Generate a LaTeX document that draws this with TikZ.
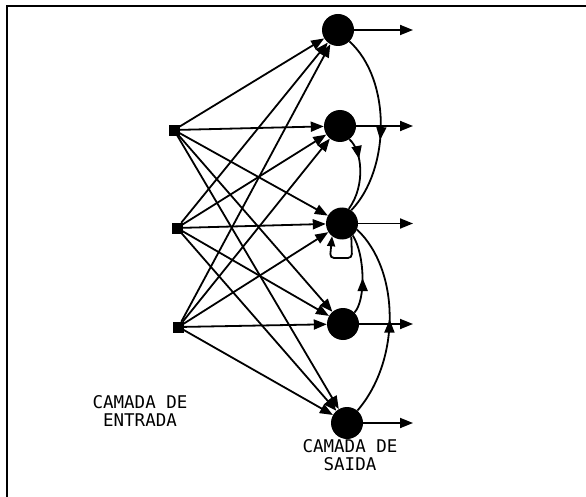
\documentclass[tikz,border=0pt]{standalone}
\usepackage{fontspec}
\setmainfont{DejaVu Sans Mono}
\usetikzlibrary{arrows.meta,decorations.markings}
\tikzset{
  inp/.style={fill=black,draw=black,minimum size=10pt,inner sep=0pt,rectangle},
  outn/.style={fill=black,circle,minimum size=32pt,inner sep=0pt},
  conn/.style={line width=1.8pt,-{Triangle[length=13pt,width=10pt]}},
  line/.style={line width=1.8pt},
  midarrow/.style={postaction={decorate},decoration={markings,
     mark=at position #1 with {\arrow{Triangle[length=13pt,width=10pt]}}}},
  lbl/.style={font=\fontsize{17.5}{18}\selectfont,align=center,inner sep=0pt}
}
\begin{document}
\begin{tikzpicture}[x=1pt,y=-1pt]
\useasboundingbox (0,0) rectangle (586,497);
\draw[line width=2pt] (6.5,497) -- (6.5,6) -- (586,6);

\node[inp] (i1) at (174,130) {};
\node[inp] (i2) at (177,228) {};
\node[inp] (i3) at (178.5,327) {};

\node[outn] (o1) at (338,30) {};
\node[outn] (o2) at (340,126) {};
\node[outn] (o3) at (342,223.5) {};
\node[outn] (o4) at (343,324) {};
\node[outn] (o5) at (347,423) {};

\foreach \i in {1,2,3}{
  \foreach \o in {1,2,3,4,5}{
    \draw[conn] (i\i) -- (o\o);
  }
}

\foreach \o/\y in {1/30,2/126,3/223.5,4/324,5/423}{
  \coordinate (e\o) at (413,\y);
  \draw[conn] (o\o) -- (e\o);
}

% feedback connections
\draw[line,midarrow=0.58] (o1.-45) .. controls (392,80) and (390,170) .. (o3.55);
\draw[line,midarrow=0.3] (o2.-55) .. controls (362,150) and (366,185) .. (o3.65);
\draw[line,rounded corners=4pt,-{Triangle[length=10pt,width=8pt]}]
   (o3.-55) -- (352,258) -- (330,258) -- (o3.-128);
\draw[line,midarrow=0.45] (o4.45) .. controls (366,300) and (365,255) .. (o3.-48);
\draw[line,midarrow=0.5] (o5.50) .. controls (401,360) and (400,270) .. (o3.-22);

\node[lbl] (t1) at (140,411) {CAMADA DE\\ENTRADA};
\node[lbl] (t2) at (350,455) {CAMADA DE\\SAIDA};
\end{tikzpicture}
\end{document}
